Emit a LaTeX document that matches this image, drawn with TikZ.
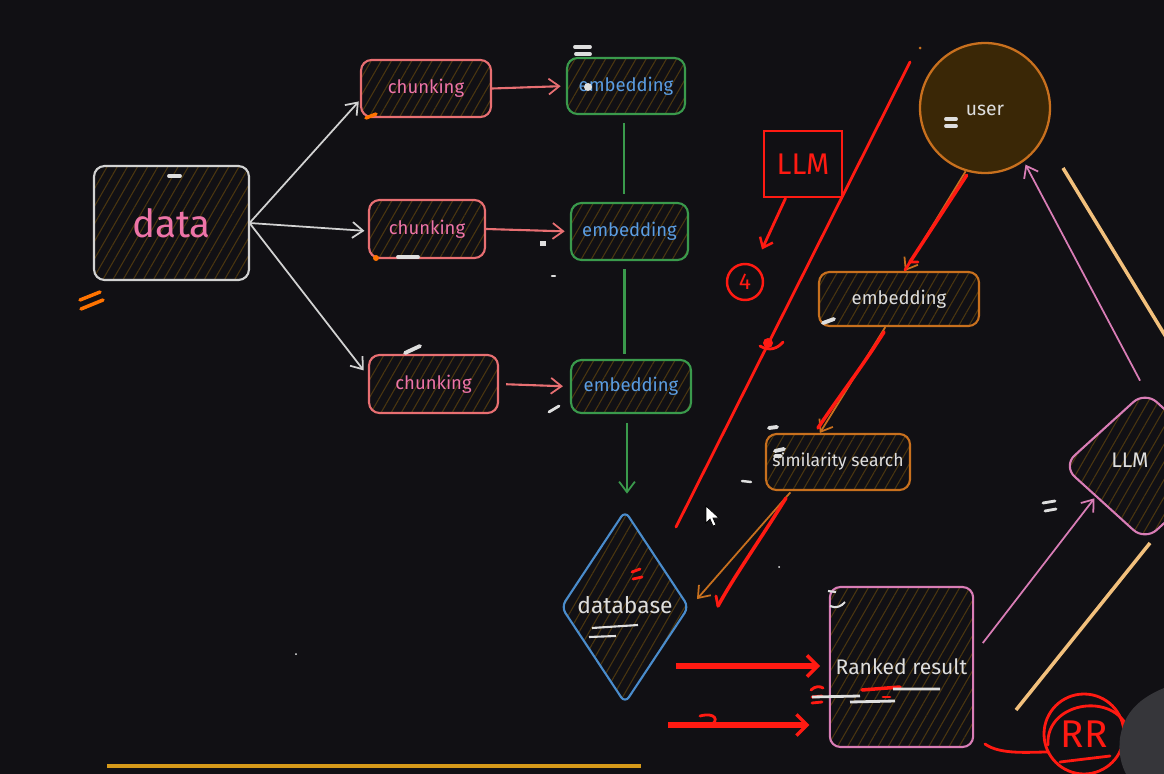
\documentclass[tikz,border=0pt]{standalone}
\usepackage{fontspec}
\setmainfont{Fira Sans}
\usetikzlibrary{arrows.meta,shapes.geometric,patterns.meta,calc}
\definecolor{bg}{HTML}{111014}
\definecolor{hatch}{HTML}{4a3610}
\definecolor{greyb}{HTML}{d2d2d2}
\definecolor{salmon}{HTML}{e86f72}
\definecolor{pinktxt}{HTML}{ee74a8}
\definecolor{greenb}{HTML}{3a9a4c}
\definecolor{bluetxt}{HTML}{5b9de2}
\definecolor{blueb}{HTML}{4a8ccc}
\definecolor{orangeb}{HTML}{c8701e}
\definecolor{userfill}{HTML}{3a2706}
\definecolor{pinkb}{HTML}{d97db6}
\definecolor{peach}{HTML}{f2c07c}
\definecolor{gold}{HTML}{d69a1a}
\definecolor{pen}{HTML}{ff1a12}
\definecolor{txtw}{HTML}{dedede}
\definecolor{handgrey}{HTML}{36363a}
\tikzset{
  hatchbox/.style={draw, line width=1.2pt, rounded corners=6pt,
    pattern={Lines[angle=60,distance=5pt,line width=.6pt]}, pattern color=hatch},
  tip/.style={-{Straight Barb[length=6pt,width=9pt,line width=1pt]}},
  greyarr/.style={tip, draw=greyb, line width=1pt},
  salarr/.style={tip, draw=salmon, line width=1.2pt},
  grnline/.style={draw=greenb, line width=1.2pt},
  orarr/.style={tip, draw=orangeb, line width=1pt},
  pkarr/.style={tip, draw=pinkb, line width=1pt},
  redpen/.style={draw=pen, line width=1.6pt, line cap=round},
  redarr/.style={redpen, -{Straight Barb[length=5pt,width=8pt,line width=1.4pt]}},
  redthick/.style={draw=pen, line width=3.2pt, -{Straight Barb[length=6pt,width=12pt,line width=2pt]}},
  whitemark/.style={draw=txtw, line width=2.2pt, line cap=round},
  orangemark/.style={draw=orange!90!red, line width=2pt, line cap=round},
  lbl/.style={font=\fontsize{10.5}{12}\selectfont},
}
\begin{document}
\begin{tikzpicture}[x=0.02cm,y=-0.02cm]
\useasboundingbox (0,0) rectangle (1164,774);
\fill[bg] (0,0) rectangle (1164,774);
\clip (0,0) rectangle (1164,774);

% ---------- left pipeline ----------
\node[hatchbox, draw=greyb, minimum width=3.1cm, minimum height=2.28cm, text=pinktxt,
  font=\fontsize{22}{24}\selectfont] (data) at (171.5,223) {data};

\node[hatchbox, draw=salmon, minimum width=2.6cm, minimum height=1.14cm, text=pinktxt, lbl] (ch1) at (426,88.5) {chunking};
\node[hatchbox, draw=salmon, minimum width=2.32cm, minimum height=1.16cm, text=pinktxt, lbl] (ch2) at (427,229) {chunking};
\node[hatchbox, draw=salmon, minimum width=2.58cm, minimum height=1.16cm, text=pinktxt, lbl] (ch3) at (433.5,384) {chunking};

\node[hatchbox, draw=greenb, minimum width=2.36cm, minimum height=1.12cm, text=bluetxt, lbl] (em1) at (626,86) {embedding};
\node[hatchbox, draw=greenb, minimum width=2.34cm, minimum height=1.14cm, text=bluetxt, lbl] (em2) at (629.5,231.5) {embedding};
\node[hatchbox, draw=greenb, minimum width=2.4cm, minimum height=1.06cm, text=bluetxt, lbl] (em3) at (631,386.5) {embedding};

\node[diamond, draw=blueb, line width=1.2pt, rounded corners=4pt, inner sep=0pt,
  minimum width=2.56cm, minimum height=3.86cm,
  pattern={Lines[angle=60,distance=5pt,line width=.6pt]}, pattern color=hatch] (db) at (625,607) {};
\node[text=txtw, font=\fontsize{13}{15}\selectfont] (dbt) at (625,605) {database};

\draw[greyarr, shorten >=1pt] (data.east) -- (ch1.190);
\draw[greyarr, shorten >=2pt] (data.east) -- (ch2.182);
\draw[greyarr, shorten >=4pt] (data.east) -- (ch3.173);

\draw[salarr, shorten >=3pt] (ch1.east) -- (em1.west);
\draw[salarr, shorten >=3pt] (ch2.east) -- (em2.west);
\draw[salarr, shorten <=4pt, shorten >=4pt] (ch3.east) -- (em3.west);

\draw[grnline, shorten <=4.5pt, shorten >=4.5pt] ([xshift=-0.04cm]em1.south) -- ([xshift=-0.04cm]em1.south |- em2.north);
\draw[grnline, shorten <=4.5pt, shorten >=3pt] ([xshift=-0.1cm]em2.south) -- ([xshift=-0.1cm]em2.south |- em3.north);
\draw[grnline, tip, shorten <=5pt, shorten >=9pt] ([xshift=-0.08cm]em3.south) -- ([xshift=-0.08cm]em3.south |- db.north);

% ---------- right pipeline ----------
\node[circle, draw=orangeb, fill=userfill, line width=1.3pt, minimum size=2.6cm,
  text=txtw, lbl] (user) at (985,108) {};
\node[text=txtw, font=\fontsize{11}{13}\selectfont] (usert) at (985,110) {user};

\node[hatchbox, draw=orangeb, minimum width=3.2cm, minimum height=1.08cm, text=txtw, lbl] (emR) at (899,299) {embedding};
\node[hatchbox, draw=orangeb, minimum width=2.88cm, minimum height=1.12cm, text=txtw,
  font=\fontsize{10}{12}\selectfont] (sim) at (838,462) {similarity search};
\node[hatchbox, draw=pinkb, minimum width=2.86cm, minimum height=3.2cm, text=txtw,
  font=\fontsize{12}{14}\selectfont] (rank) at (901.5,667) {Ranked result};

\node[diamond, draw=pinkb, line width=1.2pt, rounded corners=9pt, inner sep=0pt,
  minimum width=3.3cm, minimum height=3.0cm,
  pattern={Lines[angle=60,distance=5pt,line width=.6pt]}, pattern color=hatch] (llm) at (1145,466) {};
\node[text=txtw, font=\fontsize{12}{14}\selectfont] (llmt) at (1130,460) {LLM};

\draw[orarr] (user.253) -- (emR.78);
\draw[orarr] (emR.244) -- (sim.122);
\draw[orarr, shorten <=1pt, shorten >=6pt] (sim.212) -- (db.east);

\draw[pkarr, shorten <=8pt, shorten >=1pt] (rank.10) -- (llm.212);
\draw[pkarr, shorten <=6pt, shorten >=2pt] (llm.north) -- (user.306);

% peach strokes
\draw[draw=peach, line width=2pt] (1063,168) -- (1180,360);
\draw[draw=peach, line width=2pt] (1150,543) -- (1016,710);

% gold bottom line
\draw[draw=gold, line width=2pt] (107,766) -- (641,766);

% ---------- red pen annotations ----------
\draw[redpen] (910,62) -- (676,527);
\fill[pen] (768,343) circle (5);
\draw[redpen] (760,346) .. controls (770,352) and (778,348) .. (783,342);

\node[draw=pen, line width=1.6pt, minimum width=1.56cm, minimum height=1.32cm, text=pen,
  font=\fontsize{17}{19}\selectfont] (llmR) at (803,164) {LLM};
\node[circle, draw=pen, line width=1.4pt, minimum size=0.72cm, inner sep=0pt, text=pen,
  font=\fontsize{13}{15}\selectfont] (four) at (745,282) {4};
\draw[redarr, shorten >=10pt] (llmR.243) -- (four.60);

\draw[redpen, line width=2pt] ($(user.253)+(1,4)$) -- (910,262);
\draw[redpen] (910,262) -- (905,270) (910,262) -- (918,262);
\draw[redpen, line width=2pt] (884,332) .. controls (860,370) and (840,395) .. (818,428);
\draw[redpen, line width=2pt] (786,498) .. controls (760,540) and (735,575) .. (718,606);
\draw[redpen] (718,606) -- (716,596);

\coordinate (r1s) at (676,666);
\coordinate (r2s) at (668,725);
\draw[redthick, shorten >=5pt] (r1s) -- (r1s -| rank.west);
\draw[redthick, shorten >=11pt] (r2s) -- (r2s -| rank.west);
\draw[redpen] (700,716) .. controls (715,712) and (720,720) .. (710,726);

\node[circle, draw=pen, line width=1.6pt, minimum size=1.6cm, inner sep=0pt, text=pen,
  font=\fontsize{22}{24}\selectfont] (rr) at (1084,734) {RR};
\draw[redpen] (1048,745) .. controls (1045,700) and (1120,690) .. (1130,735);
\draw[redpen] (985,744) .. controls (1000,755) and (1030,752) .. (1048,752);
\draw[redpen] (1060,762) -- (1110,756);

% red marks
\draw[redpen] (632,572) -- (640,569) (633,579) -- (642,577);
\draw[redpen] (811,690) .. controls (815,686) and (820,686) .. (823,688);
\draw[redpen] (812,697) -- (822,696) (812,703) -- (822,702);
\draw[redpen, line width=2pt] (862,690) -- (900,687);
\draw[redpen] (883,697) -- (890,697);

% ---------- small scribble marks ----------
\draw[whitemark] (169,176) -- (180,176);
\draw[whitemark] (575,47) -- (590,47) (576,54) -- (590,54);
\fill[txtw] (588,87) circle (4);
\draw[whitemark] (398,257) -- (418,257);
\draw[whitemark] (405,353) -- (420,346);
\fill[txtw] (540,241) rectangle (546,246);
\draw[whitemark, line width=1.4pt] (552,276) -- (555,276);
\draw[whitemark, line width=1.6pt] (549,412) -- (559,406);
\draw[whitemark] (946,119) -- (956,119) (946,126) -- (956,126);
\draw[whitemark] (823,323) -- (834,319);
\draw[whitemark] (769,428) -- (777,427);
\draw[whitemark] (775,451) -- (784,449) (775,456) -- (781,456);
\draw[whitemark, line width=1.4pt] (742,481) -- (751,482);
\draw[whitemark, line width=1.6pt] (1043,503) -- (1055,501) (1045,511) -- (1056,509);
\draw[draw=txtw, line width=1.2pt] (828,591) -- (836,592) (830,606) .. controls (836,609) and (842,606) .. (845,602);
\draw[draw=txtw, line width=1.2pt] (592,628) -- (638,625) (589,637) -- (616,636);
\draw[draw=txtw, line width=1.6pt] (893,689) -- (940,689) (812,697) -- (860,696) (850,702) -- (895,701);
\draw[orangemark] (366,118) -- (376,114);
\fill[orange!90!red] (376,258) circle (3);
\draw[orangemark] (80,300) -- (100,292) (81,309) -- (103,300);
\fill[orangeb] (920,48) circle (1.5);
\fill[txtw!60] (779,567) circle (1);
\fill[txtw!60] (296,654) circle (1);

% mouse cursor
\filldraw[fill=white, draw=black, line width=0.4pt]
  (706,506) -- (706,523) -- (710,519) -- (713,526) -- (716,525) -- (713,518) -- (719,518) -- cycle;

% pen/hand at bottom right
\fill[handgrey] (1164,688) .. controls (1140,698) and (1124,712) .. (1120,738)
  .. controls (1118,755) and (1122,766) .. (1126,774) -- (1164,774) -- cycle;
\end{tikzpicture}
\end{document}
